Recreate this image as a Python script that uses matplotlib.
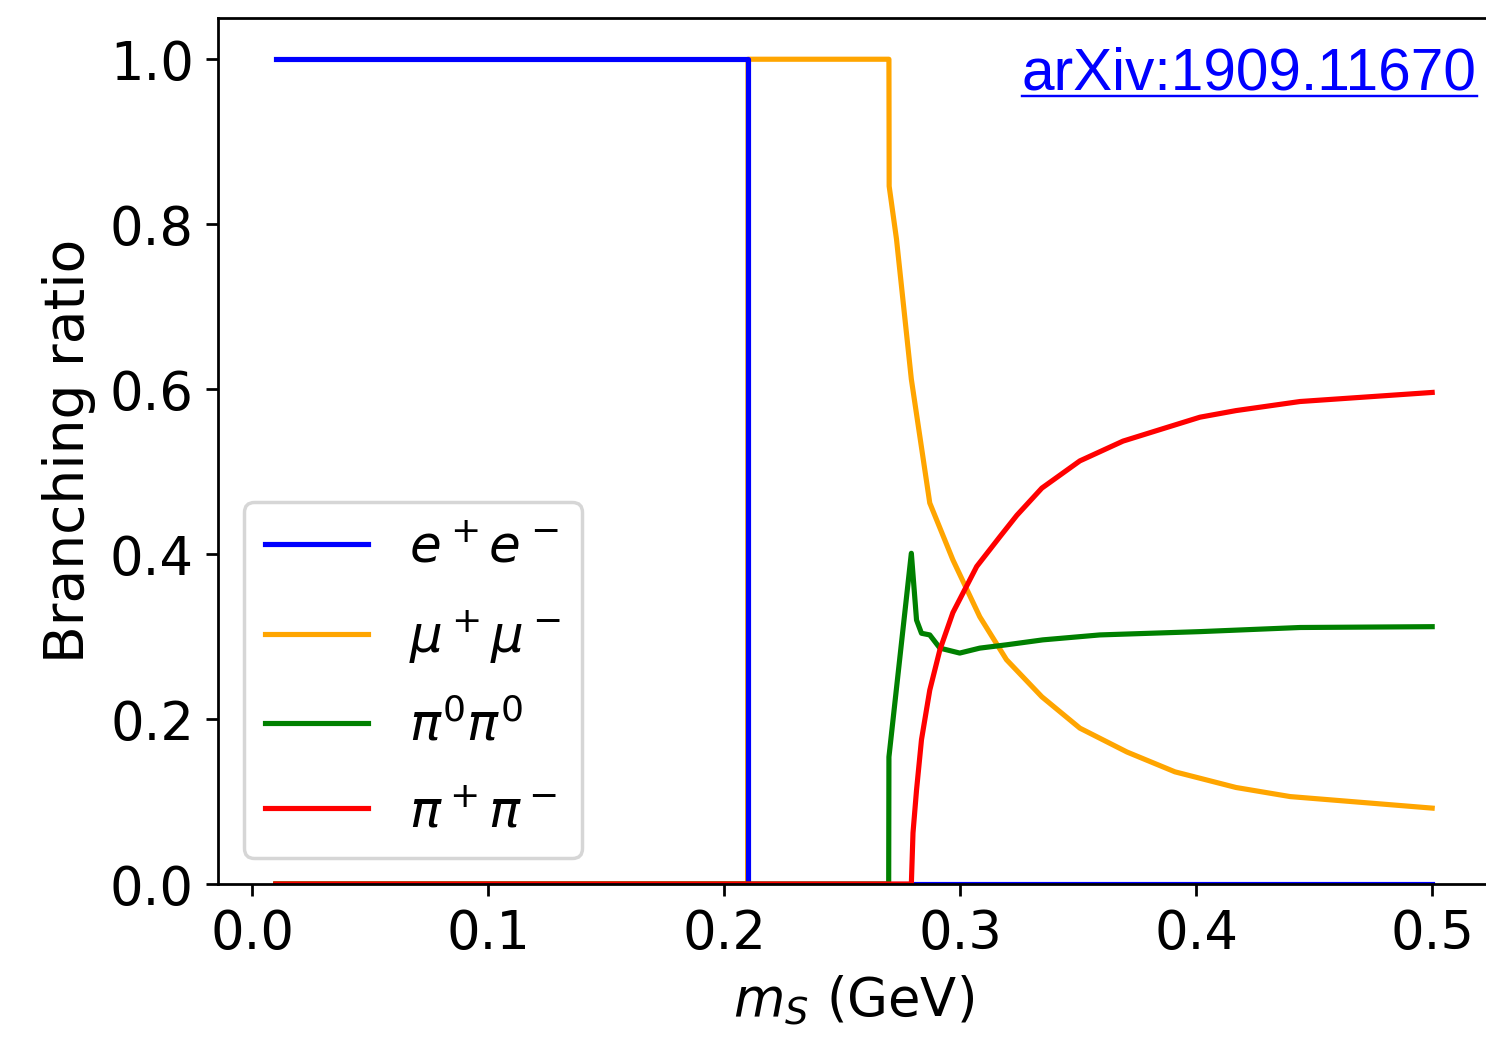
import matplotlib
matplotlib.use("Agg")
import matplotlib.pyplot as plt
from matplotlib.lines import Line2D

# ---- data (m_S in GeV, branching ratio) ----
ee_x = [0.01, 0.21, 0.21, 0.5]
ee_y = [1.0, 1.0, 0.0, 0.0]

mumu_x = [0.01, 0.2099, 0.2101, 0.2698, 0.2699, 0.273, 0.2793, 0.2871, 0.2969,
          0.3083, 0.3196, 0.3346, 0.3507, 0.3707, 0.391, 0.4169, 0.4398, 0.5]
mumu_y = [0.0, 0.0, 1.0, 1.0, 0.846, 0.782, 0.612, 0.462, 0.393,
          0.324, 0.272, 0.227, 0.189, 0.160, 0.136, 0.117, 0.106, 0.092]

pi0_x = [0.01, 0.2697, 0.2698, 0.2793, 0.2815, 0.2836, 0.2871, 0.2914, 0.2998,
         0.3083, 0.3196, 0.335, 0.3592, 0.4016, 0.444, 0.5]
pi0_y = [0.0, 0.0, 0.154, 0.401, 0.320, 0.304, 0.302, 0.286, 0.280,
         0.286, 0.290, 0.296, 0.302, 0.306, 0.311, 0.312]

pipm_x = [0.01, 0.2793, 0.2800, 0.2815, 0.2836, 0.2871, 0.2914, 0.2969, 0.3070,
          0.3168, 0.3240, 0.3346, 0.3507, 0.3690, 0.3847, 0.4016, 0.4169, 0.4440, 0.5]
pipm_y = [0.0, 0.0, 0.062, 0.114, 0.175, 0.235, 0.284, 0.329, 0.385,
          0.421, 0.447, 0.480, 0.513, 0.537, 0.551, 0.566, 0.574, 0.585, 0.596]

labels = [r"$e^+e^-$", r"$\mu^+\mu^-$", r"$\pi^0\pi^0$", r"$\pi^+\pi^-$"]
colors = ["blue", "orange", "green", "red"]

# reference text is a bit narrower than it is tall, so split the difference
FS = 15.3
plt.rcParams["font.size"] = FS

dpi = 248
fig = plt.figure(figsize=(1486 / dpi, 1052 / dpi), dpi=dpi)
# right spine sits just past the picture edge, as in the reference crop
ax = fig.add_axes([218 / 1486, 1 - 884 / 1052, 1272 / 1486, 866 / 1052])

# orange first so the blue step covers it at 0.21
l_mu, = ax.plot(mumu_x, mumu_y, color=colors[1], label=labels[1])
l_e, = ax.plot(ee_x, ee_y, color=colors[0], label=labels[0])
l_p0, = ax.plot(pi0_x, pi0_y, color=colors[2], label=labels[2])
l_pp, = ax.plot(pipm_x, pipm_y, color=colors[3], label=labels[3])

ax.set_ylim(bottom=0)
ax.set_xlabel(r"$m_S$ (GeV)")
ax.set_ylabel("Branching ratio", fontsize=16)
ax.legend(handles=[l_e, l_mu, l_p0, l_pp], loc="lower left",
          fontsize=15, labelspacing=0.69)

# arXiv tag, underlined like a link
fig.text(1476 / 1486, 1 - 90 / 1052, "arXiv:1909.11670", color="blue",
         fontsize=17, family="Liberation Sans", ha="right", va="baseline")
fig.add_artist(Line2D([1022 / 1486, 1477 / 1486], [1 - 95.5 / 1052, 1 - 95.5 / 1052],
                      color="blue", linewidth=0.7, transform=fig.transFigure))

fig.savefig("out.png", dpi=dpi)
